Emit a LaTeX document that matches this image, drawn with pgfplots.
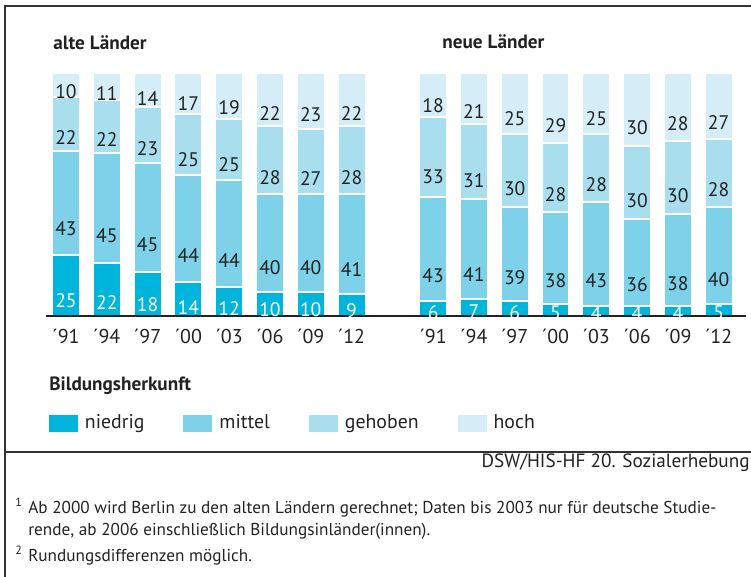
\documentclass[border=0pt]{standalone}
\usepackage{pgfplots}
\usepackage{pgfplotstable}
\pgfplotsset{compat=1.18}
\usepackage{fontspec}
\setmainfont{PT Sans}
\definecolor{cNied}{HTML}{00B5DC}
\definecolor{cMit}{HTML}{7DD1E8}
\definecolor{cGeh}{HTML}{A8DEEE}
\definecolor{cHoch}{HTML}{D4EDF6}
\definecolor{txt}{HTML}{222222}
\definecolor{frame}{HTML}{333333}

% x: 0-7 alte Laender, 9-16 neue Laender
\pgfplotstableread{
x nied mit geh hoch
0 25 43 22 10
1 22 45 22 11
2 18 45 23 14
3 14 44 25 17
4 12 44 25 19
5 10 40 28 22
6 10 40 27 23
7 9 41 28 22
9 6 43 33 18
10 7 41 31 21
11 6 39 30 25
12 5 38 28 29
13 4 43 28 25
14 4 36 30 30
15 4 38 30 28
16 5 40 28 27
}\data

\begin{document}
\begin{tikzpicture}
\begin{axis}[
  at={(23pt,-158pt)}, anchor=south west, scale only axis,
  width=350pt, height=121.5pt,
  xmin=-0.49, xmax=16.67, ymin=0, ymax=100,
  ybar stacked, bar width=0.686,
  axis on top,
  axis x line*=bottom, axis y line=none,
  x axis line style={draw=txt, line width=0.7pt},
  xtick={0,1,2,3,4,5,6,7,9,10,11,12,13,14,15,16},
  xticklabels={´91,´94,´97,´00,´03,´06,´09,´12,´91,´94,´97,´00,´03,´06,´09,´12},
  major tick length=0pt, xtick style={draw=none},
  xticklabel style={font=\fontsize{10}{12}\selectfont, text=txt, yshift=-3pt},
  /pgf/number format/assume math mode=true,
  nodes near coords={\pgfmathprintnumber{\rawy}},
  visualization depends on=rawy \as \rawy,
  every node near coord/.append style={anchor=center, inner sep=0pt,
    shift={(axis direction cs:0,-\rawy/4)},
    font=\fontsize{9.8}{11}\selectfont, text=txt},
  legend columns=4,
  legend style={at={(axis cs:-0.417,-44.2)}, anchor=west, draw=none, fill=none,
    inner sep=0pt, outer sep=0pt, font=\fontsize{9.9}{12}\selectfont, text=txt,
    /tikz/every even column/.append style={column sep=17.5pt}},
  legend cell align=left,
  legend image code/.code={\fill[#1, draw=none] (0pt,-4.25pt) rectangle (14.5pt,4.25pt);},
]
\addplot[fill=cNied, draw=white, line width=1pt,
  every node near coord/.append style={text=white}] table[x=x,y=nied]{\data};
\addplot[fill=cMit, draw=white, line width=1pt] table[x=x,y=mit]{\data};
\addplot[fill=cGeh, draw=white, line width=1pt] table[x=x,y=geh]{\data};
\addplot[fill=cHoch, draw=white, line width=1pt] table[x=x,y=hoch]{\data};
\legend{\hspace{1.5pt}niedrig, \hspace{1.5pt}mittel, \hspace{1.5pt}gehoben, \hspace{1.5pt}hoch}
\end{axis}
\begin{scope}[x=0.5pt, y=-0.5pt, every node/.style={inner sep=0pt, text=txt}]
  \draw[frame, line width=0.6pt] (5,577) -- (5,6) -- (751,6);
  \draw[frame, line width=0.6pt] (5,452) -- (751,452);
  \node[anchor=base west, font=\bfseries\fontsize{9.6}{11}\selectfont] at (53,50) {alte Länder};
  \node[anchor=base west, font=\bfseries\fontsize{9.6}{11}\selectfont] at (442,49) {neue Länder};
  \node[anchor=base west, font=\bfseries\fontsize{9.6}{11}\selectfont] at (49,391) {Bildungsherkunft};
  \node[anchor=base east, font=\fontsize{9.6}{11}\selectfont] at (750,468) {DSW/HIS-HF 20. Sozialerhebung};
  \node[anchor=base west, font=\fontsize{8.6}{10}\selectfont] at (28,514) {Ab 2000 wird Berlin zu den alten Ländern gerechnet; Daten bis 2003 nur für deutsche Studie-};
  \node[anchor=base west, font=\fontsize{8.6}{10}\selectfont] at (28,536) {rende, ab 2006 einschließlich Bildungsinländer(innen).};
  \node[anchor=base west, font=\fontsize{8.6}{10}\selectfont] at (28,562) {Rundungsdifferenzen möglich.};
  \node[anchor=base west, font=\fontsize{6}{7}\selectfont] at (15,507) {1};
  \node[anchor=base west, font=\fontsize{6}{7}\selectfont] at (15,555) {2};
  \pgfresetboundingbox
  \path[use as bounding box] (0,0) rectangle (751,577);
\end{scope}
\end{tikzpicture}
\end{document}
